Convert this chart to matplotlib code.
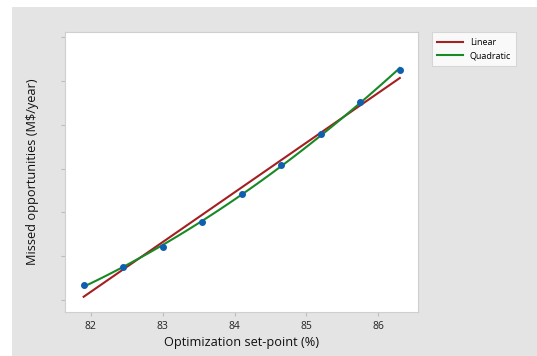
import numpy as np
import matplotlib
matplotlib.use("Agg")
import matplotlib.pyplot as plt
from matplotlib.patches import Rectangle

plt.rcParams['font.family'] = ['Open Sans', 'DejaVu Sans']

# set-point (%) vs missed opportunities (arbitrary units, y ticks unlabeled in source)
setpoint = [81.90, 82.45, 83.00, 83.55, 84.10, 84.65, 85.20, 85.75, 86.30]
missed = [0.34, 0.75, 1.22, 1.78, 2.41, 3.09, 3.78, 4.52, 5.26]
xticks = [82, 83, 84, 85, 86]
yticks = [0, 1, 2, 3, 4, 5, 6]

x = np.array(setpoint)
y = np.array(missed)
lin = np.polyfit(x, y, 1)
quad = np.polyfit(x, y, 2)
xs = np.linspace(x.min(), x.max(), 100)

fig = plt.figure(figsize=(5.37, 3.56), dpi=100)
fig.patch.set_facecolor('white')
fig.patches.append(Rectangle((12/537, 0), 1 - 12/537, 349/356, transform=fig.transFigure,
                             facecolor='#e4e4e4', edgecolor='none', zorder=-10))

ax = fig.add_axes([0.121, 0.1236, 0.657, 0.787])
ax.set_facecolor('white')

l1, = ax.plot(xs, np.polyval(lin, xs), color='#a31f22', lw=1.5, label='Linear', zorder=2)
l2, = ax.plot(xs, np.polyval(quad, xs), color='#178a26', lw=1.5, label='Quadratic', zorder=3)
ax.plot(x, y, 'o', color='#0f5fb0', ms=4, zorder=4)

ax.set_xlim(81.64, 86.55)
ax.set_ylim(-0.27, 6.12)
ax.set_xticks(xticks)
ax.set_yticks(yticks)
ax.set_yticklabels([])
ax.tick_params(axis='both', colors='#bdbdbd', length=3, width=0.8, labelsize=7.5, labelcolor='#222222')
for s in ax.spines.values():
    s.set_color('#cfcfcf')
    s.set_linewidth(0.8)

ax.set_xlabel('Optimization set-point (%)', fontsize=9.2, color='#111111', labelpad=3)
ax.set_ylabel('Missed opportunities (M$/year)', fontsize=9.2, color='#111111', labelpad=12)

leg = fig.legend(handles=[l1, l2], loc='upper left', bbox_to_anchor=(0.804, 0.909),
                 fontsize=6.5, frameon=True, fancybox=False, edgecolor='#d0d0d0',
                 handlelength=2.9, handletextpad=0.7, borderpad=0.6, labelspacing=0.5,
                 borderaxespad=0)
leg.get_frame().set_linewidth(0.8)

fig.savefig('out.png', dpi=100)
